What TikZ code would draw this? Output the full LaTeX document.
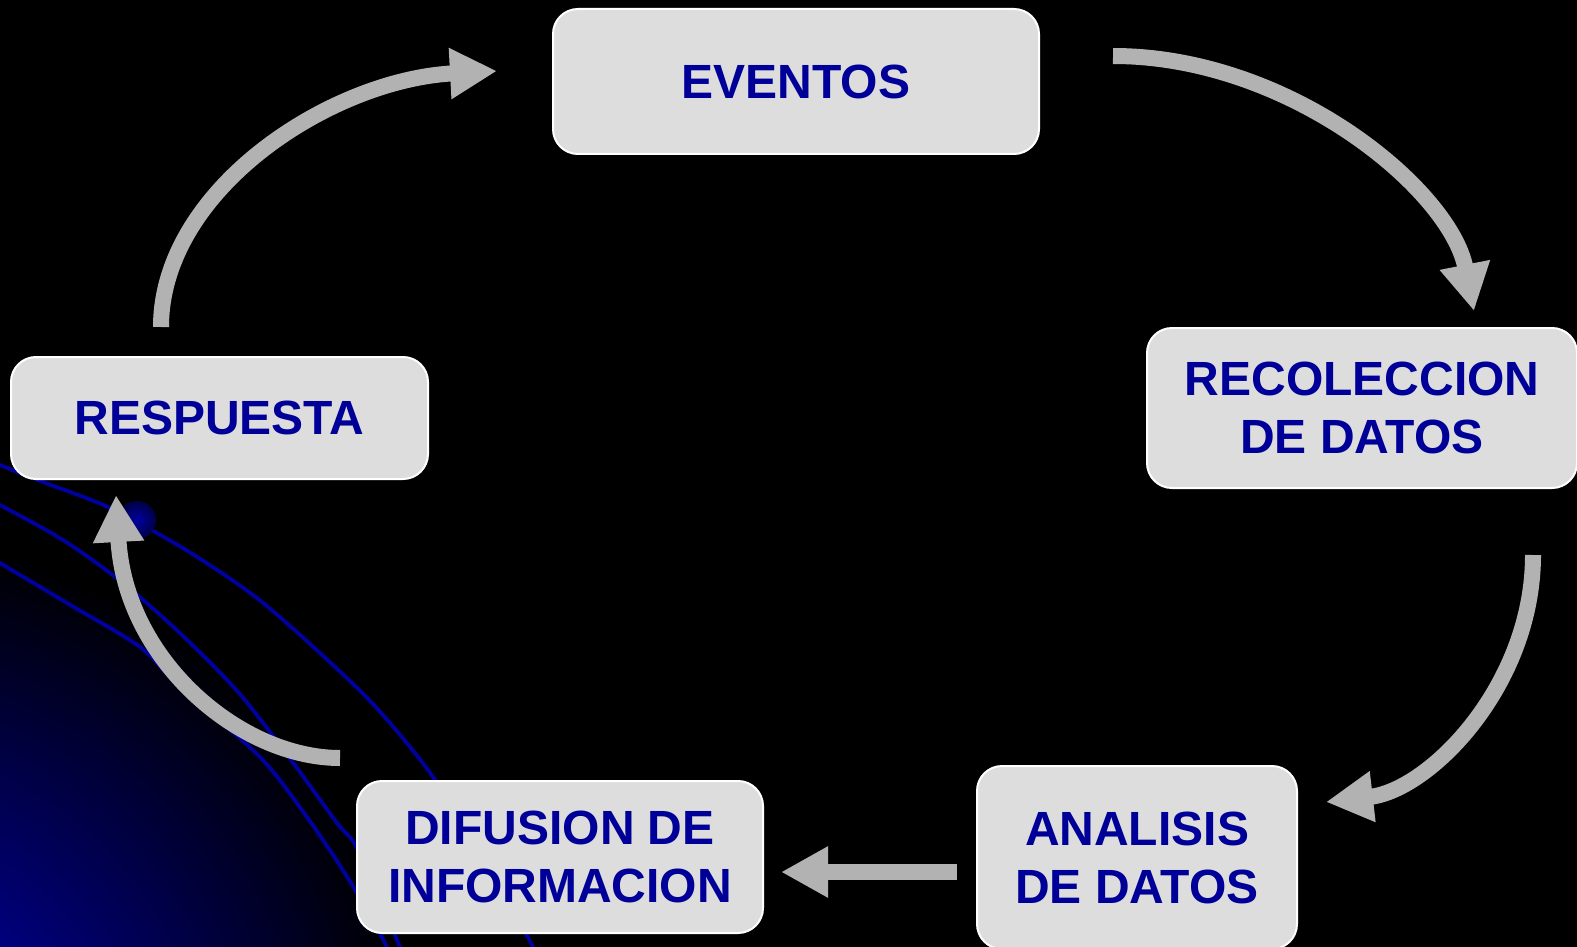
\documentclass[tikz,border=0pt]{standalone}
\usepackage{fontspec}
\setmainfont{Liberation Sans}
\usetikzlibrary{arrows.meta}
\definecolor{boxfill}{HTML}{DDDDDD}
\definecolor{txtblue}{HTML}{000099}
\definecolor{arrgray}{HTML}{B2B2B2}
\definecolor{lineblue}{HTML}{0000A0}
\definecolor{glowblue}{RGB}{0,0,200}
\definecolor{ballin}{RGB}{0,0,160}
\definecolor{ballout}{RGB}{0,0,70}
\begin{document}
\begin{tikzpicture}[x=1pt,y=-1pt,
  stepbox/.style={draw=white, line width=2pt, fill=boxfill, rounded corners=25pt,
    inner sep=0pt, align=center, text=txtblue,
    font=\fontsize{48}{58}\selectfont\bfseries},
  flow/.style={draw=arrgray, line width=16pt, -{Triangle[length=47pt,width=48pt]}},
  deco/.style={draw=lineblue, line width=3.8pt}]
\useasboundingbox (0,0) rectangle (1577,947);
\fill[black] (0,0) rectangle (1577,947);
\begin{scope}
  \clip (0,0) rectangle (1577,947);
  \shade[inner color=glowblue, outer color=black] (-150,1100) circle[radius=570];
  \draw[deco] plot[smooth] coordinates {(-10,460) (0,465) (43,482) (110,508) (186,550) (253,595) (309,643) (372,703) (428,770) (480,850) (533,947) (545,975)};
  \draw[deco] plot[smooth] coordinates {(-10,500) (0,505) (63,540) (123,583) (182,635) (239,693) (291,760) (337,823) (358,850) (400,947) (410,975)};
  \draw[deco] plot[smooth] coordinates {(-10,557) (0,563) (67,603) (140,647) (180,687) (260,757) (309,820) (351,883) (387,947) (397,975)};
  \shade[inner color=ballin, outer color=ballout] (137,520) circle[radius=19];
\end{scope}

\node[stepbox, minimum width=486pt, minimum height=145pt] (eventos) at (796,81.5) {EVENTOS};
\node[stepbox, minimum width=430pt, minimum height=160pt] (recoleccion) at (1362,408) {RECOLECCION\\DE DATOS};
\node[stepbox, minimum width=320pt, minimum height=183pt] (analisis) at (1137,857.5) {ANALISIS\\DE DATOS};
\node[stepbox, minimum width=406pt, minimum height=152pt] (difusion) at (560,857) {DIFUSION DE\\INFORMACION};
\node[stepbox, minimum width=417pt, minimum height=122pt] (respuesta) at (219.5,418) {RESPUESTA};

\coordinate (a1s) at (1113,56);
\coordinate (a1e) at (1474,311);
\coordinate (a2s) at (1533,555);
\coordinate (a2e) at (1326,802);
\coordinate (a3s) at (957,872);
\coordinate (a3e) at (781,872);
\coordinate (a4s) at (340,758);
\coordinate (a4e) at (116,495);
\coordinate (a5s) at (161,327);
\coordinate (a5e) at (497,71);

\draw[flow] (a1s) .. controls (1290,56) and (1450,190) .. (a1e);
\draw[flow] (a2s) .. controls (1533,685) and (1430,790) .. (a2e);
\draw[flow] (a3s) -- (a3e);
\draw[flow] (a4s) .. controls (240,758) and (125,660) .. (a4e);
\draw[flow] (a5s) .. controls (161,190) and (330,80) .. (a5e);
\end{tikzpicture}
\end{document}
